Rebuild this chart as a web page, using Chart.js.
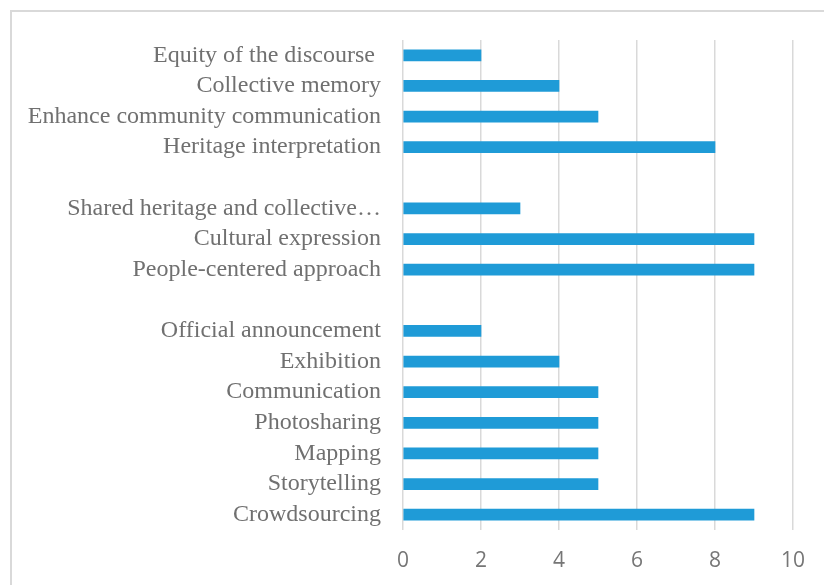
<!DOCTYPE html>
<html>
<head>
<meta charset="utf-8">
<script src="https://cdn.jsdelivr.net/npm/chart.js@4"></script>
<style>
  html, body { margin: 0; padding: 0; background: #fff; overflow: hidden; }
  #frame { position: absolute; left: 10px; top: 10px; width: 830px; height: 590px; border: 2px solid #d9d9d9; box-sizing: border-box; }
  canvas { position: absolute; left: 0; top: 0; }
</style>
</head>
<body>
<div id="frame"></div>
<canvas id="barChart" width="824" height="585"></canvas>
<script>
// rows top to bottom, '' = empty gap row
const categories = [
  'Equity of the discourse ', 'Collective memory', 'Enhance community communication', 'Heritage interpretation',
  '',
  'Shared heritage and collective…', 'Cultural expression', 'People-centered approach',
  '',
  'Official announcement', 'Exhibition', 'Communication', 'Photosharing', 'Mapping', 'Storytelling', 'Crowdsourcing'
];
const counts = [2, 4, 5, 8, null, 3, 9, 9, null, 2, 4, 5, 5, 5, 5, 9];
const xTicks = [0, 2, 4, 6, 8, 10];

const config = {
    type: 'bar',
    data: {
        labels: categories,
        datasets: [{
            data: counts,
            backgroundColor: '#1f9bd7',
            barThickness: 11
        }]
    },
    options: {
        indexAxis: 'y',
        responsive: false,
        animation: false,
        layout: { padding: { top: 40, right: 31, left: 0, bottom: 0 } },
        scales: {
            x: {
                min: 0,
                max: 10,
                afterBuildTicks: (axis) => { axis.ticks = xTicks.map(v => ({ value: v })); },
                afterFit: (axis) => { axis.height = 55; },
                grid: { color: '#d9d9d9', lineWidth: 1.5, drawTicks: false },
                border: { display: false },
                ticks: {
                    padding: 18,
                    color: '#767676',
                    font: { family: 'Open Sans', size: 21 }
                }
            },
            y: {
                afterFit: (axis) => { axis.width = 403; },
                grid: { display: false },
                border: { display: false },
                ticks: {
                    padding: 14,
                    autoSkip: false,
                    color: '#707070',
                    font: { family: 'Liberation Serif', size: 24 }
                }
            }
        },
        plugins: {
            legend: { display: false },
            tooltip: { enabled: false }
        }
    }
};

const barChart = new Chart(document.getElementById('barChart'), config);
</script>
</body>
</html>
